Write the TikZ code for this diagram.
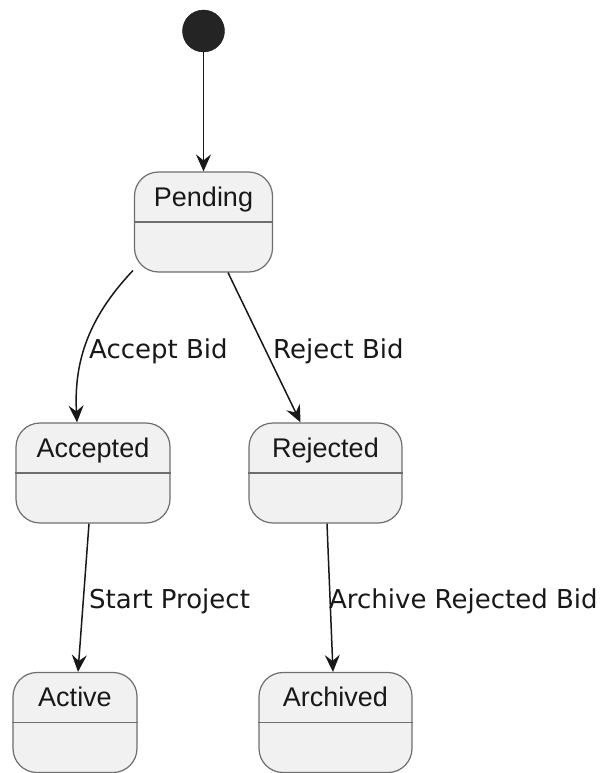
\documentclass[tikz,border=0pt]{standalone}
\usepackage{fontspec}
\usetikzlibrary{arrows.meta,calc}
\newfontfamily\nodefont{Liberation Sans}
\newfontfamily\labelfont{DejaVu Sans}
\definecolor{edgecol}{HTML}{181818}
\definecolor{boxfill}{HTML}{F1F1F1}
\definecolor{boxdraw}{HTML}{6E6E6E}
\tikzset{
  statebox/.style={draw=boxdraw, fill=boxfill, line width=1.2pt, rounded corners=24pt,
    minimum height=100pt, inner sep=0pt},
  divider/.style={draw=boxdraw, line width=1.6pt},
  statetext/.style={font=\nodefont\fontsize{27}{32}\selectfont, text=edgecol, inner sep=0pt, anchor=base},
  edgelabel/.style={font=\labelfont\fontsize{26}{30}\selectfont, text=edgecol, inner sep=0pt, anchor=base west},
  trans/.style={draw=edgecol, line width=1.5pt, -{Stealth[length=17pt,width=15pt,inset=6pt]}},
  initial/.style={circle, fill=edgecol!95!white, draw=edgecol, minimum size=42pt, inner sep=0pt}
}
\begin{document}
\begin{tikzpicture}[x=1pt,y=-1pt]
\useasboundingbox (0,0) rectangle (613,773);
% states
\node[initial] (init) at (203.5,31) {};
\node[statebox, minimum width=138pt] (pending) at (203.5,222) {};
\node[statebox, minimum width=154pt] (accepted) at (93,473) {};
\node[statebox, minimum width=153pt] (rejected) at (325.5,473) {};
\node[statebox, minimum width=124pt] (active) at (75,722.5) {};
\node[statebox, minimum width=153pt] (archived) at (335.5,722.5) {};
% dividers and titles
\foreach \s/\t in {pending/Pending, accepted/Accepted, rejected/Rejected, active/Active, archived/Archived}{
  \draw[divider] (\s.west) -- (\s.east);
  \node[statetext] (\s-title) at ($(\s.north)+(0,35)$) {\t};
}
% transitions
\draw[trans] (init) -- (pending.north);
\draw[trans] ([xshift=-1pt,yshift=2pt]pending.south west) .. controls (86,320) and (74,365) .. ([xshift=-16pt]accepted.north);
\draw[trans] ([xshift=24.5pt]pending.south) -- ([xshift=-25pt]rejected.north);
\draw[trans] ([xshift=-4pt]accepted.south) -- ([xshift=3pt]active.north);
\draw[trans] ([xshift=1.5pt]rejected.south) -- ([xshift=-2.5pt]archived.north);
% labels
\node[edgelabel] (lab-accept) at (89,358) {Accept Bid};
\node[edgelabel] (lab-reject) at (273,358) {Reject Bid};
\node[edgelabel] (lab-start) at (89,608) {Start Project};
\node[edgelabel] (lab-archive) at (329,608) {Archive Rejected Bid};
\end{tikzpicture}
\end{document}
